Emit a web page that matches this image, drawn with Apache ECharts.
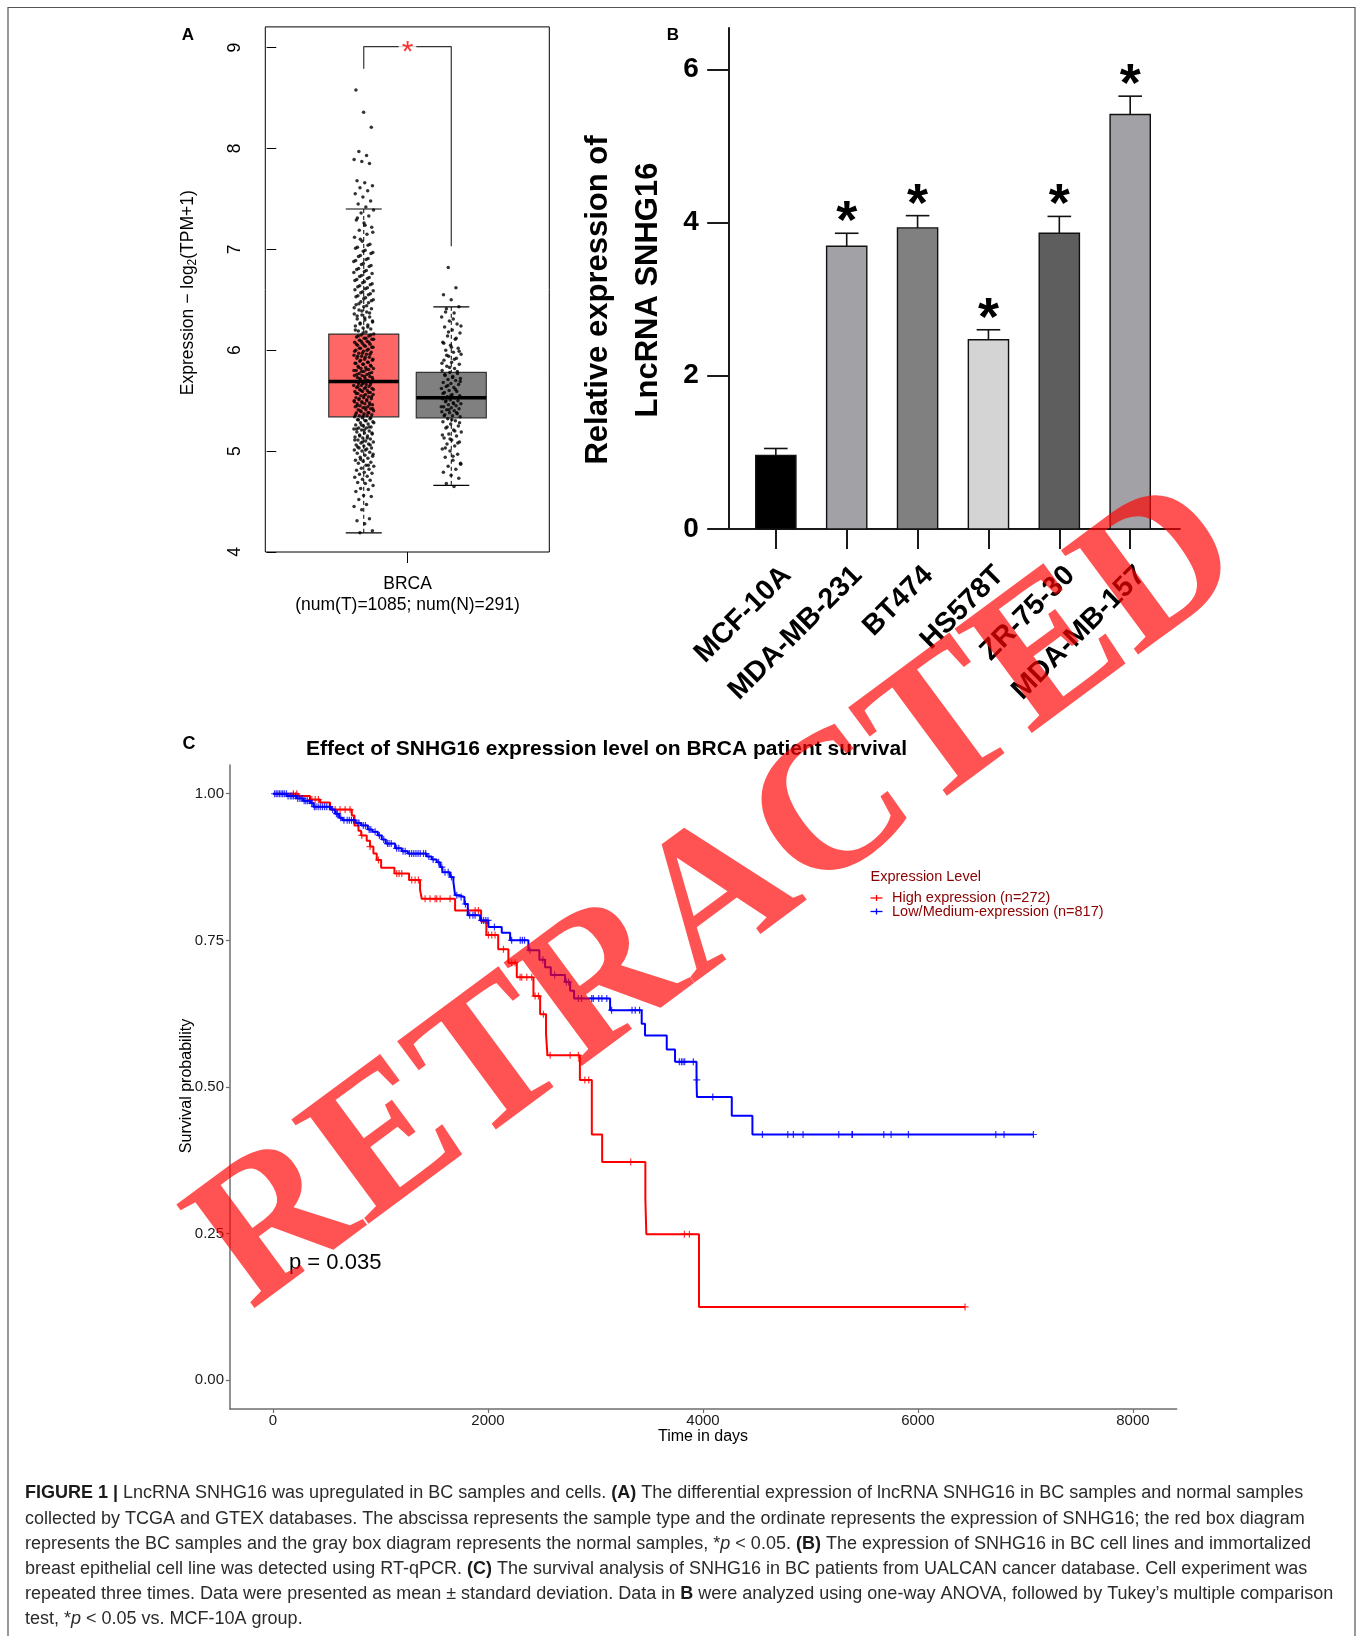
<!DOCTYPE html>
<html><head><meta charset="utf-8">
<script src="https://cdn.jsdelivr.net/npm/echarts@6/dist/echarts.min.js"></script>
<style>html,body{margin:0;padding:0;background:#fff}#c{width:1362px;height:1636px}</style>
</head><body><div id="c"></div>
<script>
// ---------------- Panel A data ----------------
const boxGroups = ['Tumor', 'Normal'];
// [lower whisker, Q1, median, Q3, upper whisker]
const boxStats = [
  [4.19, 5.34, 5.69, 6.16, 7.40],
  [4.66, 5.33, 5.53, 5.78, 6.43]
];
const tumorValues = [4.19,4.21,4.28,4.31,4.33,4.42,4.45,4.47,4.52,4.55,4.56,4.60,4.62,4.63,4.66,4.68,4.69,
 4.71,4.72,4.74,4.75,4.77,4.78,4.79,4.81,4.82,4.83,4.85,4.86,4.88,4.89,4.90,4.91,4.93,4.94,4.95,4.96,4.98,4.99,
 5.00,5.01,5.02,5.03,5.03,5.05,5.06,5.07,5.08,5.09,5.10,5.11,5.12,5.13,5.14,5.15,5.15,5.17,5.18,5.19,5.20,5.21,5.22,5.23,5.23,5.24,5.25,5.26,5.27,5.28,5.29,5.30,5.31,5.32,5.33,
 5.34,5.35,5.35,5.36,5.37,5.38,5.38,5.39,5.40,5.41,5.41,5.42,5.43,5.44,5.44,5.45,5.46,5.47,5.47,5.48,5.49,5.50,5.50,5.51,5.52,5.53,5.53,5.54,5.55,5.56,5.56,5.57,5.58,5.59,5.59,5.60,5.61,5.62,5.62,5.63,5.64,5.65,5.65,5.66,5.67,5.68,5.68,5.69,
 5.70,5.71,5.71,5.72,5.73,5.74,5.75,5.75,5.76,5.77,5.78,5.79,5.80,5.81,5.82,5.82,5.83,5.84,5.85,5.86,5.87,5.88,5.89,5.90,5.91,5.92,5.93,5.94,5.95,5.96,5.97,5.98,5.99,6.00,6.01,6.02,6.03,6.04,6.05,6.06,6.07,6.08,6.09,6.10,6.11,6.12,6.13,6.14,6.15,6.16,
 6.18,6.19,6.21,6.22,6.24,6.25,6.27,6.28,6.30,6.31,6.33,6.35,6.36,6.38,6.40,6.41,6.43,6.45,6.47,6.48,6.50,6.52,6.54,6.56,6.58,6.60,6.62,6.64,6.66,6.68,6.70,6.72,6.74,6.77,6.79,6.81,6.84,6.86,6.89,6.91,6.94,6.97,6.99,
 7.02,7.05,7.08,7.12,7.15,7.19,7.22,7.26,7.29,7.33,7.36,7.39,
 7.42,7.45,7.48,7.52,7.55,7.58,7.61,7.63,7.66,7.68,7.85,7.87,7.89,7.93,7.97,8.21,8.36,8.58,
 4.86,4.92,4.97,5.01,5.04,5.06,5.09,5.11,5.13,5.16,5.18,5.21,5.22,5.24,5.26,5.28,5.30,5.31,5.33,5.35,5.36,5.38,5.40,5.42,5.43,5.45,5.46,5.48,5.49,5.51,
 5.52,5.54,5.55,5.57,5.58,5.60,5.61,5.63,5.64,5.66,5.67,5.69,5.70,5.72,5.73,5.74,5.76,5.77,5.79,5.80,5.81,5.83,5.84,5.86,5.87,5.88,5.90,5.91,5.93,5.94,
 5.96,5.97,5.99,6.00,6.02,6.03,6.05,6.06,6.08,6.09,6.11,6.12,6.14,6.15,6.17,6.20,6.23,6.26,6.29,6.32,6.34,6.37,6.39,6.42,6.44,6.46,6.49,6.51,6.53,6.55,
 6.57,6.59,6.61,6.63,6.65,6.67,6.69,6.71,6.73,6.76,6.78,6.80,6.83,6.85,6.88,6.90,6.93,6.96,6.98,7.01,7.04,7.10,7.17,7.24,7.31];
const normalValues = [4.65,4.68,4.73,4.76,4.79,4.82,4.85,4.88,4.91,4.94,4.97,5.00,5.02,5.05,5.07,5.09,5.11,5.13,5.15,5.17,5.19,5.21,5.23,5.25,5.27,5.29,5.30,5.32,
 5.34,5.35,5.36,5.37,5.38,5.39,5.40,5.41,5.42,5.43,5.44,5.45,5.46,5.47,5.48,5.49,5.50,5.51,5.52,5.53,
 5.54,5.55,5.56,5.58,5.59,5.60,5.62,5.63,5.64,5.66,5.67,5.68,5.70,5.71,5.72,5.74,5.75,5.77,5.78,
 5.80,5.82,5.84,5.86,5.88,5.90,5.92,5.94,5.96,5.98,6.00,6.02,6.05,6.08,6.11,6.14,6.17,6.20,6.23,6.26,6.29,6.33,6.37,6.41,6.43,
 6.50,6.55,6.62,6.82,
 4.87,4.95,5.03,5.08,5.12,5.16,5.20,5.24,5.28,5.31,5.35,5.38,5.41,5.44,5.47,5.50,5.53,5.55,5.57,5.61,5.65,5.69,5.73,5.76,5.79,5.83,5.87,5.91,5.95,5.99,6.03,6.07,6.12,6.18,6.24,6.31,6.38];
const aTicks = [4, 5, 6, 7, 8, 9];
const aCategory = 'BRCA';
const aCountLabel = '(num(T)=1085; num(N)=291)';
// significance bracket: [left foot, top, right foot]
const bracketLevels = [8.79, 9.01, 7.03];

// ---------------- Panel B data ----------------
const cellLines = ['MCF-10A', 'MDA-MB-231', 'BT474', 'HS578T', 'ZR-75-30', 'MDA-MB-157'];
const expMean = [0.96, 3.69, 3.93, 2.47, 3.86, 5.41];
const expSD = [0.09, 0.17, 0.16, 0.13, 0.22, 0.24];
const significant = [false, true, true, true, true, true];
const bTicks = [0, 2, 4, 6];

// ---------------- Panel C data ----------------
// Kaplan-Meier steps: [time (days), survival after that time]
const highSteps = [[0,1.0],[237,0.996],[345,0.99],[438,0.985],[531,0.973],[733,0.963],[758,0.946],[795,0.937],[820,0.929],[872,0.92],[903,0.91],[934,0.898],[965,0.887],[1006,0.874],[1130,0.864],[1266,0.853],[1368,0.836],[1384,0.821],[1694,0.801],[1936,0.782],[1985,0.759],[2095,0.735],[2190,0.712],[2268,0.687],[2423,0.655],[2485,0.624],[2540,0.590],[2553,0.554],[2855,0.512],[2966,0.419],[3062,0.372],[3464,0.31],[3473,0.249],[3963,0.125],[6438,0.125]];
const lowSteps = [[0,1.0],[128,0.996],[221,0.992],[283,0.988],[345,0.984],[376,0.978],[540,0.973],[578,0.966],[615,0.959],[646,0.955],[770,0.95],[820,0.946],[882,0.939],[925,0.935],[975,0.929],[1012,0.922],[1049,0.915],[1136,0.907],[1198,0.902],[1254,0.898],[1430,0.893],[1477,0.888],[1523,0.883],[1555,0.875],[1576,0.866],[1647,0.858],[1678,0.85],[1694,0.827],[1731,0.824],[1781,0.812],[1812,0.793],[1927,0.784],[2004,0.773],[2128,0.763],[2206,0.75],[2376,0.733],[2478,0.717],[2531,0.704],[2584,0.691],[2717,0.679],[2764,0.664],[2801,0.651],[3136,0.631],[3430,0.608],[3461,0.588],[3663,0.564],[3740,0.543],[3940,0.512],[3944,0.483],[4268,0.451],[4460,0.419],[7074,0.419]];
const highCensor = [190,221,361,392,423,578,624,671,717,826,903,981,1151,1173,1198,1291,1322,1353,1415,1461,1508,1523,1555,1647,1818,1880,1911,2004,2035,2066,2144,2221,2252,2299,2314,2361,2407,2438,2469,2516,2578,2764,2841,2901,2937,3328,3827,3874,6438];
const lowCensor = [15,30,45,60,75,90,105,125,140,160,175,190,210,230,250,270,290,305,320,340,360,385,400,420,440,460,480,500,525,555,590,600,630,660,690,710,730,750,790,800,840,860,895,910,950,990,1030,1065,1080,1100,1150,1170,1210,1230,1270,1290,1310,1330,1350,1370,1400,1420,1450,1490,1540,1570,1600,1630,1660,1710,1750,1790,1830,1860,1880,1940,1960,1980,2000,2060,2220,2300,2320,2340,2390,2510,2620,2730,2750,2840,2870,2965,2980,3030,3060,3105,3150,3340,3370,3410,3780,3800,3815,3830,3910,3942,4091,4553,4789,4841,4931,5263,5387,5390,5682,5750,5911,6724,6801,7074];
const seriesNames = ['High expression (n=272)', 'Low/Medium-expression (n=817)'];
const cXTicks = [0, 2000, 4000, 6000, 8000];
const cYTicks = [0, 0.25, 0.5, 0.75, 1.0];
const pValueText = 'p = 0.035';
const cTitle = 'Effect of SNHG16 expression level on BRCA patient survival';
const cXName = 'Time in days';
const cYName = 'Survival probability';

const captionLines = [
  '{b|FIGURE 1 |} LncRNA SNHG16 was upregulated in BC samples and cells. {b|(A)} The differential expression of lncRNA SNHG16 in BC samples and normal samples',
  'collected by TCGA and GTEX databases. The abscissa represents the sample type and the ordinate represents the expression of SNHG16; the red box diagram',
  'represents the BC samples and the gray box diagram represents the normal samples, *{i|p} < 0.05. {b|(B)} The expression of SNHG16 in BC cell lines and immortalized',
  'breast epithelial cell line was detected using RT-qPCR. {b|(C)} The survival analysis of SNHG16 in BC patients from UALCAN cancer database. Cell experiment was',
  'repeated three times. Data were presented as mean ± standard deviation. Data in {b|B} were analyzed using one-way ANOVA, followed by Tukey\u2019s multiple comparison',
  'test, *{i|p} < 0.05 vs. MCF-10A group.'
];

// ---------------- styles ----------------
const SANS = 'Liberation Sans, Arial, sans-serif';
const boxColors = ['#FF6666', '#808080'];
const barColors = ['#000000', '#a2a2a6', '#808080', '#d4d4d4', '#5e5e5e', '#a2a2a6'];
const CAP_FS = 18;

function jitter(i, half) { // deterministic spread (presentation only)
  const f = (i * 0.6180339887 + 0.31) % 1;
  return (f - 0.5) * 2 * half;
}
function survAt(steps, t) {
  let s = steps[0][1];
  for (const p of steps) { if (p[0] <= t) s = p[1]; else break; }
  return s;
}

const chart = echarts.init(document.getElementById('c'), null, {renderer: 'canvas'});

const plusPath = 'path://M0,5L10,5M5,0L5,10';

const option = {
  animation: false,
  backgroundColor: '#fff',
  grid: [
    {left: 265.3, top: 26.9, width: 284, height: 525.1, show: true, borderColor: '#000', borderWidth: 1, backgroundColor: 'rgba(0,0,0,0)', outerBoundsMode: 'none'},
    {left: 728.7, top: 28, width: 451.1, height: 500.9, outerBoundsMode: 'none'},
    {left: 230, top: 765, width: 946.7, height: 644, outerBoundsMode: 'none'}
  ],
  xAxis: [
    {gridIndex: 0, type: 'value', min: -0.125, max: 3.12,
     axisLine: {show: false}, splitLine: {show: false},
     axisTick: {show: true, customValues: [1.5], length: 11, lineStyle: {color: '#000', width: 1}},
     axisLabel: {customValues: [1.5], formatter: () => aCategory + '\n' + aCountLabel, color: '#000', fontSize: 17.5, fontFamily: SANS, lineHeight: 21, margin: 22}},
    {gridIndex: 1, type: 'value', min: -0.665, max: 5.70,
     axisLine: {show: true, onZero: false, lineStyle: {color: '#1a1a1a', width: 2}}, splitLine: {show: false},
     axisTick: {show: true, customValues: [0,1,2,3,4,5], length: 20, lineStyle: {color: '#1a1a1a', width: 2}},
     axisLabel: {customValues: [0,1,2,3,4,5], formatter: v => cellLines[Math.round(v)], rotate: 45, align: 'right', verticalAlign: 'top',
       lineHeight: 31, margin: 31, color: '#000', fontSize: 28.5, fontWeight: 'bold', fontFamily: SANS}},
    {gridIndex: 2, type: 'value', min: -400, max: 8407,
     axisLine: {show: true, onZero: false, lineStyle: {color: '#6e6e6e', width: 1.5}}, splitLine: {show: false},
     axisTick: {show: true, customValues: cXTicks, length: 4, lineStyle: {color: '#6e6e6e', width: 1.2}},
     axisLabel: {customValues: cXTicks, formatter: v => String(Math.round(v)), color: '#1a1a1a', fontSize: 15, fontFamily: SANS, margin: 4}}
  ],
  yAxis: [
    {gridIndex: 0, type: 'value', min: 4, max: 9.205,
     axisLine: {show: false}, splitLine: {show: false},
     axisTick: {show: true, customValues: aTicks, length: 9.6, lineStyle: {color: '#000', width: 1}},
     axisLabel: {customValues: aTicks, rotate: 90, align: 'center', verticalAlign: 'middle', margin: 30, color: '#000', fontSize: 17.5, fontFamily: SANS}},
    {gridIndex: 1, type: 'value', min: 0, max: 6.54,
     axisLine: {show: true, onZero: false, lineStyle: {color: '#1a1a1a', width: 2}}, splitLine: {show: false},
     axisTick: {show: true, customValues: bTicks, length: 21.5, lineStyle: {color: '#1a1a1a', width: 2}},
     axisLabel: {customValues: bTicks, margin: 30, color: '#000', fontSize: 28, fontWeight: 'bold', fontFamily: SANS}},
    {gridIndex: 2, type: 'value', min: -0.049, max: 1.049,
     axisLine: {show: true, onZero: false, lineStyle: {color: '#6e6e6e', width: 1.5}}, splitLine: {show: false},
     axisTick: {show: true, customValues: cYTicks, length: 4, lineStyle: {color: '#6e6e6e', width: 1.2}},
     axisLabel: {customValues: cYTicks, formatter: v => v.toFixed(2), color: '#1a1a1a', fontSize: 15, fontFamily: SANS, margin: 6}}
  ],
  series: [
    // ---- Panel A: boxes ----
    {type: 'custom', xAxisIndex: 0, yAxisIndex: 0, z: 2,
     data: boxStats.map((s, i) => [i + 1].concat(s)),
     renderItem(params, api) {
       const x = api.value(0);
       const pLo = api.coord([x, api.value(1)]), pQ1 = api.coord([x, api.value(2)]), pMed = api.coord([x, api.value(3)]);
       const pQ3 = api.coord([x, api.value(4)]), pHi = api.coord([x, api.value(5)]);
       const cx = pMed[0], hw = 35, cap = 18;
       return {type: 'group', children: [
         {type: 'line', shape: {x1: cx, y1: pHi[1], x2: cx, y2: pQ3[1]}, style: {stroke: '#000', lineWidth: 1, lineDash: [4, 3]}},
         {type: 'line', shape: {x1: cx, y1: pQ1[1], x2: cx, y2: pLo[1]}, style: {stroke: '#000', lineWidth: 1, lineDash: [4, 3]}},
         {type: 'line', shape: {x1: cx - cap, y1: pHi[1], x2: cx + cap, y2: pHi[1]}, style: {stroke: '#000', lineWidth: 1.2}},
         {type: 'line', shape: {x1: cx - cap, y1: pLo[1], x2: cx + cap, y2: pLo[1]}, style: {stroke: '#000', lineWidth: 1.2}},
         {type: 'rect', shape: {x: cx - hw, y: pQ3[1], width: 2 * hw, height: pQ1[1] - pQ3[1]}, style: {fill: boxColors[params.dataIndex], stroke: '#333', lineWidth: 1.2}},
         {type: 'line', shape: {x1: cx - hw, y1: pMed[1], x2: cx + hw, y2: pMed[1]}, style: {stroke: '#000', lineWidth: 3.5}}
       ]};
     }},
    {type: 'scatter', xAxisIndex: 0, yAxisIndex: 0, z: 3, symbolSize: 3.5, itemStyle: {color: '#000'},
     data: tumorValues.map((v, i) => [1 + jitter(i, 0.115), v])},
    {type: 'scatter', xAxisIndex: 0, yAxisIndex: 0, z: 3, symbolSize: 3.5, itemStyle: {color: '#000'},
     data: normalValues.map((v, i) => [2 + jitter(i + 7, 0.115), v])},
    {type: 'line', xAxisIndex: 0, yAxisIndex: 0, z: 4, symbol: 'none', lineStyle: {color: '#333', width: 1.2},
     data: [[1, bracketLevels[0]], [1, bracketLevels[1]], [2, bracketLevels[1]], [2, bracketLevels[2]]]},
    {type: 'scatter', xAxisIndex: 0, yAxisIndex: 0, z: 5, symbolSize: 0,
     data: [[1.5, bracketLevels[1]]],
     label: {show: true, position: 'inside', formatter: '*', color: '#ff0000', fontSize: 30, fontFamily: SANS, backgroundColor: '#fff', padding: [0, 3, 0, 3], offset: [0, 6]}},
    // ---- Panel B ----
    {type: 'custom', xAxisIndex: 1, yAxisIndex: 1, z: 3,
     data: expMean.map((m, i) => [i, m, expSD[i]]),
     renderItem(params, api) {
       const i = api.value(0), m = api.value(1), sd = api.value(2);
       const p0 = api.coord([i, 0]), p1 = api.coord([i, m]), p2 = api.coord([i, m + sd]);
       const hw = 20.1, cap = 11.8;
       const kids = [
         {type: 'line', shape: {x1: p1[0], y1: p1[1], x2: p2[0], y2: p2[1]}, style: {stroke: '#111', lineWidth: 1.6}},
         {type: 'line', shape: {x1: p2[0] - cap, y1: p2[1], x2: p2[0] + cap, y2: p2[1]}, style: {stroke: '#111', lineWidth: 1.6}},
         {type: 'rect', shape: {x: p0[0] - hw, y: p1[1], width: 2 * hw, height: p0[1] - p1[1]}, style: {fill: barColors[params.dataIndex], stroke: '#111', lineWidth: 1.4}}
       ];
       if (significant[params.dataIndex]) {
         kids.push({type: 'text', style: {text: '*', x: p2[0], y: p2[1] - 10, align: 'center', verticalAlign: 'middle',
           fontSize: 54, fontWeight: 'bold', fontFamily: SANS, fill: '#000'}});
       }
       return {type: 'group', children: kids};
     }},
    // ---- Panel C ----
    {type: 'line', name: seriesNames[0], xAxisIndex: 2, yAxisIndex: 2, step: 'end', symbol: 'none', z: 3,
     lineStyle: {color: '#ff0000', width: 2}, data: highSteps},
    {type: 'scatter', name: seriesNames[0], xAxisIndex: 2, yAxisIndex: 2, symbol: plusPath, symbolSize: 7, z: 3,
     itemStyle: {color: 'rgba(0,0,0,0)', borderColor: '#ff0000', borderWidth: 1.2},
     data: highCensor.map(t => [t, survAt(highSteps, t)])},
    {type: 'line', name: seriesNames[1], xAxisIndex: 2, yAxisIndex: 2, step: 'end', symbol: 'none', z: 4,
     lineStyle: {color: '#0000ff', width: 2}, data: lowSteps},
    {type: 'scatter', name: seriesNames[1], xAxisIndex: 2, yAxisIndex: 2, symbol: plusPath, symbolSize: 7, z: 4,
     itemStyle: {color: 'rgba(0,0,0,0)', borderColor: '#0000ff', borderWidth: 1.2},
     data: lowCensor.map(t => [t, survAt(lowSteps, t)])}
  ],
  graphic: {elements: [
    {type: 'rect', z: -10, shape: {x: 8, y: 7.5, width: 1347, height: 1700}, style: {fill: 'none', stroke: '#555', lineWidth: 1.2}},
    // panel letters
    {type: 'text', style: {text: 'A', x: 188, y: 35, align: 'center', verticalAlign: 'middle', fontSize: 17, fontWeight: 'bold', fontFamily: SANS, fill: '#000'}},
    {type: 'text', style: {text: 'B', x: 673, y: 35.5, align: 'center', verticalAlign: 'middle', fontSize: 17, fontWeight: 'bold', fontFamily: SANS, fill: '#000'}},
    {type: 'text', style: {text: 'C', x: 189, y: 744, align: 'center', verticalAlign: 'middle', fontSize: 18, fontWeight: 'bold', fontFamily: SANS, fill: '#000'}},
    // panel A y title
    {type: 'text', x: 188, y: 292.7, rotation: Math.PI / 2,
     style: {text: 'Expression \u2212 log{s|2}(TPM+1)', x: 0, y: 0, align: 'center', verticalAlign: 'middle', fontSize: 17.5, fontFamily: SANS, fill: '#000', lineHeight: 22,
       rich: {s: {fontSize: 12, fontFamily: SANS, fill: '#000', lineHeight: 12, verticalAlign: 'bottom'}}}},
    // panel B y title
    {type: 'text', x: 598, y: 300, rotation: Math.PI / 2,
     style: {text: 'Relative expression of', x: 0, y: 0, align: 'center', verticalAlign: 'middle', fontSize: 31, fontWeight: 'bold', fontFamily: SANS, fill: '#000'}},
    {type: 'text', x: 648, y: 290, rotation: Math.PI / 2,
     style: {text: 'LncRNA SNHG16', x: 0, y: 0, align: 'center', verticalAlign: 'middle', fontSize: 31, fontWeight: 'bold', fontFamily: SANS, fill: '#000'}},
    // panel C titles, p value, legend
    {type: 'text', style: {text: cTitle, x: 306, y: 749, align: 'left', verticalAlign: 'middle', fontSize: 21, fontWeight: 'bold', fontFamily: SANS, fill: '#000'}},
    {type: 'text', style: {text: cXName, x: 703, y: 1437, align: 'center', verticalAlign: 'middle', fontSize: 16, fontFamily: SANS, fill: '#000'}},
    {type: 'text', x: 187, y: 1086, rotation: Math.PI / 2,
     style: {text: cYName, x: 0, y: 0, align: 'center', verticalAlign: 'middle', fontSize: 16, fontFamily: SANS, fill: '#000'}},
    {type: 'text', style: {text: pValueText, x: 289, y: 1263, align: 'left', verticalAlign: 'middle', fontSize: 22, fontFamily: SANS, fill: '#000'}},
    {type: 'text', style: {text: 'Expression Level', x: 870.5, y: 877, align: 'left', verticalAlign: 'middle', fontSize: 14.5, fontFamily: SANS, fill: '#8b0000'}},
    {type: 'line', shape: {x1: 870.5, y1: 898, x2: 882.5, y2: 898}, style: {stroke: '#ff0000', lineWidth: 1.3}},
    {type: 'line', shape: {x1: 876.5, y1: 895, x2: 876.5, y2: 901}, style: {stroke: '#ff0000', lineWidth: 1.3}},
    {type: 'text', style: {text: seriesNames[0], x: 892, y: 898, align: 'left', verticalAlign: 'middle', fontSize: 14.5, fontFamily: SANS, fill: '#8b0000'}},
    {type: 'line', shape: {x1: 870.5, y1: 911.5, x2: 882.5, y2: 911.5}, style: {stroke: '#0000ff', lineWidth: 1.3}},
    {type: 'line', shape: {x1: 876.5, y1: 908.5, x2: 876.5, y2: 914.5}, style: {stroke: '#0000ff', lineWidth: 1.3}},
    {type: 'text', style: {text: seriesNames[1], x: 892, y: 911.5, align: 'left', verticalAlign: 'middle', fontSize: 14.5, fontFamily: SANS, fill: '#8b0000'}}
  ].concat(captionLines.map((ln, k) => ({
    type: 'text', style: {text: ln, x: 25, y: 1493.5 + k * 25.05, align: 'left', verticalAlign: 'middle', fontSize: CAP_FS, fontFamily: SANS, fill: '#2b2b2b',
      rich: {
        b: {fontSize: CAP_FS, fontFamily: SANS, fontWeight: 'bold', fill: '#1a1a1a'},
        i: {fontSize: CAP_FS, fontFamily: SANS, fontStyle: 'italic', fill: '#2b2b2b'}
      }}
  }))).concat([
    // watermark
    {type: 'text', z: 100, x: 720, y: 900, rotation: 0.637,
     style: {text: 'RETRACTED', x: 0, y: 0, align: 'center', verticalAlign: 'middle', fontSize: 198, fontWeight: 'bold', fontFamily: 'Liberation Serif, Times New Roman, serif', fill: 'rgba(255,0,0,0.68)'}}
  ])}
};
chart.setOption(option);
</script>
</body></html>
